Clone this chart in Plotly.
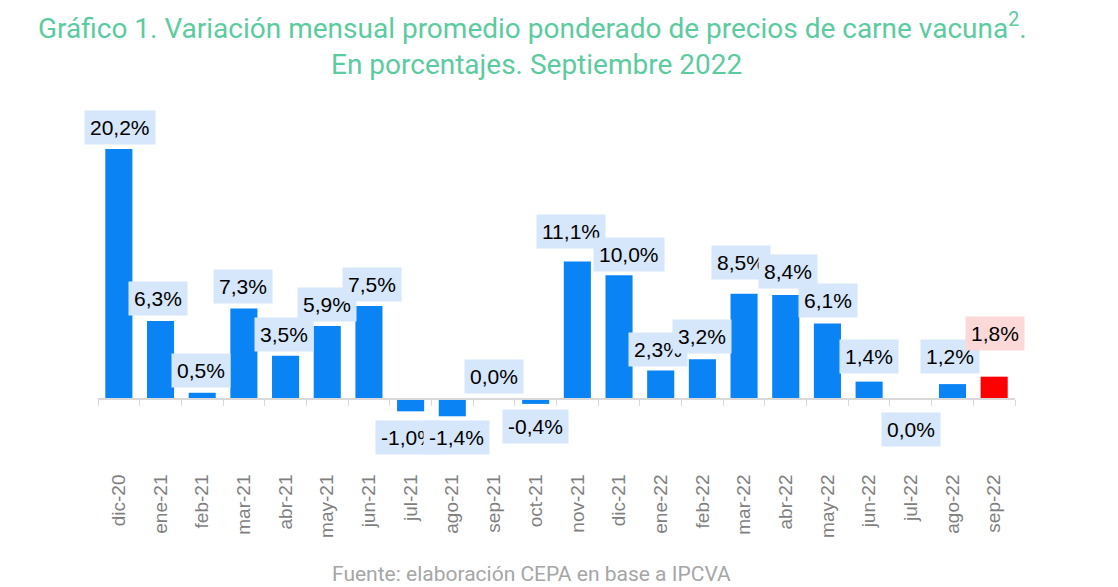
import plotly.graph_objects as go

categories = ["dic-20", "ene-21", "feb-21", "mar-21", "abr-21", "may-21", "jun-21",
              "jul-21", "ago-21", "sep-21", "oct-21", "nov-21", "dic-21", "ene-22",
              "feb-22", "mar-22", "abr-22", "may-22", "jun-22", "jul-22", "ago-22", "sep-22"]
values = [20.2, 6.3, 0.5, 7.3, 3.5, 5.9, 7.5, -1.0, -1.4, 0.0, -0.4, 11.1, 10.0, 2.3,
          3.2, 8.5, 8.4, 6.1, 1.4, 0.0, 1.2, 1.8]
labels = ["20,2%", "6,3%", "0,5%", "7,3%", "3,5%", "5,9%", "7,5%", "-1,0%", "-1,4%", "0,0%",
          "-0,4%", "11,1%", "10,0%", "2,3%", "3,2%", "8,5%", "8,4%", "6,1%", "1,4%", "0,0%",
          "1,2%", "1,8%"]

# label placement tweaks (pixels)
label_dx = [1, -3, -1, -1, -2, 0, 3, -2, 4, 0, 0, -6, 10, -3, 0, -3, 2, 1, 0, 0, -2, 1]
label_dy = [21, 22, 22, 22, 21, 21, 22, -26, -21, 22, -23, 30, 21, 21, 23, 31, 23, 23, 25, -31, 28, 43]

BLUE = "#0A84F5"
RED = "#FF0000"
colors = [BLUE] * (len(categories) - 1) + [RED]
label_bg = ["#D6E7FB"] * (len(categories) - 1) + ["#FCD9D9"]

W, H = 1110, 579
L, R, T, B = 90, 103, 92, 129
PW = W - L - R

ymin, ymax = -4.77, 24.15
zero_pos = (0 - ymin) / (ymax - ymin)

fig = go.Figure()
fig.add_trace(go.Bar(x=categories, y=values, marker=dict(color=colors, line=dict(width=0)),
                     hoverinfo="x+y"))

for i, (c, v, t) in enumerate(zip(categories, values, labels)):
    fig.add_annotation(x=c, y=v, text=t, showarrow=False, xshift=label_dx[i], yshift=label_dy[i],
                       font=dict(family="Liberation Sans, Arial", size=21, color="#000000"),
                       bgcolor=label_bg[i], borderpad=5)

title_font = dict(family="Roboto", size=28, color="#5CCB9F")
fig.add_annotation(xref="paper", yref="paper", x=(524 - L) / PW, y=1, yshift=74,
                   text="Gráfico 1. Variación mensual promedio ponderado de precios de carne vacuna<sup>2</sup>.",
                   showarrow=False, font=title_font, xanchor="center", yanchor="middle")
fig.add_annotation(xref="paper", yref="paper", x=(528 - L) / PW, y=1, yshift=36,
                   text="En porcentajes. Septiembre 2022",
                   showarrow=False, font=title_font, xanchor="center", yanchor="middle")
fig.add_annotation(xref="paper", yref="paper", x=(523 - L) / PW, y=0, yshift=-116,
                   text="Fuente: elaboración CEPA en base a IPCVA",
                   showarrow=False, font=dict(family="Roboto", size=21, color="#A6A6A6"),
                   xanchor="center", yanchor="middle")

fig.update_layout(
    width=W, height=H,
    margin=dict(l=L, r=R, t=T, b=B, autoexpand=False),
    paper_bgcolor="white", plot_bgcolor="white",
    showlegend=False, bargap=0.35,
    xaxis=dict(type="category", anchor="free", position=zero_pos, automargin=False,
               range=[-0.5, len(categories) - 0.5], autorange=False,
               showline=True, linecolor="#D9D9D9", linewidth=2,
               ticks="outside", tickson="boundaries", ticklen=6, tickcolor="#D9D9D9",
               tickangle=-90, ticklabelstandoff=67,
               tickfont=dict(family="Liberation Sans, Arial", size=19, color="#7F7F7F"),
               showgrid=False, zeroline=False),
    yaxis=dict(range=[ymin, ymax], visible=False, showgrid=False, zeroline=False,
               automargin=False),
)

fig.write_html("out.html")
